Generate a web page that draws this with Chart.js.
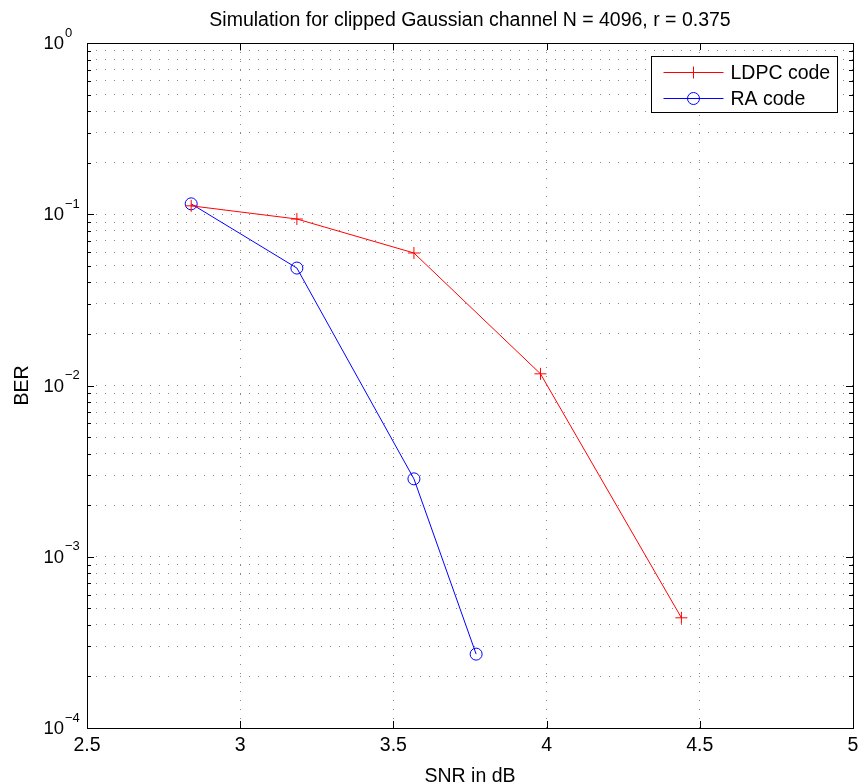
<!DOCTYPE html>
<html>
<head>
<meta charset="utf-8">
<script src="https://cdn.jsdelivr.net/npm/chart.js@4.4.1/dist/chart.umd.min.js"></script>
<style>
  body { margin: 0; background: #fff; }
  #wrap { width: 865px; height: 784px; }
</style>
</head>
<body>
<div id="wrap"><canvas id="berChart" width="865" height="784"></canvas></div>
<script>
// data
const titleText = "Simulation for clipped Gaussian channel N = 4096, r = 0.375";
const xTitle = "SNR in dB";
const yTitle = "BER";

const seriesNames = ["LDPC code", "RA code"];
const snrLdpc = [2.84, 3.185, 3.567, 3.98, 4.44];
const berLdpc = [0.112, 0.0938, 0.0594, 0.0117, 0.00044];
const snrRa = [2.84, 3.185, 3.567, 3.77];
const berRa = [0.115, 0.0485, 0.00285, 0.00027];

const xTicks = [2.5, 3, 3.5, 4, 4.5, 5];
const yDecades = [-4, -3, -2, -1, 0];

const FONT = "'Liberation Sans', Arial, Helvetica, sans-serif";
const FS = 19.5;

// log grid: 1..9 x each decade, plus the top
function buildLogTicks() {
  const t = [];
  for (let e = yDecades[0]; e < yDecades[yDecades.length - 1]; e++) {
    for (let m = 1; m <= 9; m++) t.push({ value: m * Math.pow(10, e) });
  }
  t.push({ value: Math.pow(10, yDecades[yDecades.length - 1]) });
  return t;
}

const toPoints = (xs, ys) => xs.map((x, i) => ({ x: x, y: ys[i] }));

// frame, tick marks, y labels, titles and legend
const decorPlugin = {
  id: "decor",
  afterDraw(chart) {
    const { ctx, chartArea: a, scales } = chart;
    const xs = scales.x, ys = scales.y;
    ctx.save();

    // tick marks on all four sides
    ctx.strokeStyle = "#000";
    ctx.lineWidth = 1;
    ctx.beginPath();
    xTicks.forEach((v) => {
      const px = Math.round(xs.getPixelForValue(v)) + 0.5;
      ctx.moveTo(px, a.bottom); ctx.lineTo(px, a.bottom - 7);
      ctx.moveTo(px, a.top); ctx.lineTo(px, a.top + 7);
    });
    buildLogTicks().forEach((t) => {
      const py = Math.round(ys.getPixelForValue(t.value)) + 0.5;
      const major = Math.abs(Math.log10(t.value) - Math.round(Math.log10(t.value))) < 1e-9;
      const len = major ? 7 : 4;
      ctx.moveTo(a.left, py); ctx.lineTo(a.left + len, py);
      ctx.moveTo(a.right, py); ctx.lineTo(a.right - len, py);
    });
    ctx.stroke();

    // frame
    ctx.strokeRect(Math.round(a.left) + 0.5, Math.round(a.top) + 0.5,
      Math.round(a.right - a.left), Math.round(a.bottom - a.top));

    // y tick labels 10^e
    ctx.fillStyle = "#000";
    ctx.textBaseline = "middle";
    yDecades.forEach((e) => {
      const py = ys.getPixelForValue(Math.pow(10, e));
      ctx.font = "18.5px " + FONT;
      ctx.textAlign = "right";
      ctx.fillText("10", a.left - 23, py + 1);
      ctx.font = "13px " + FONT;
      ctx.textAlign = "left";
      ctx.fillText(e < 0 ? "\u2212" + (-e) : String(e), a.left - 22, py - 10);
    });

    // titles
    ctx.font = FS + "px " + FONT;
    ctx.textAlign = "center";
    const cx = (a.left + a.right) / 2;
    ctx.fillText(titleText, cx, 21);
    ctx.fillText(xTitle, cx, 777);
    ctx.save();
    ctx.translate(23, (a.top + a.bottom) / 2);
    ctx.rotate(-Math.PI / 2);
    ctx.fillText(yTitle, 0, 0);
    ctx.restore();

    // legend box
    const bw = 186, bh = 56;
    const bx = Math.round(a.right - 16 - bw) + 0.5, by = Math.round(a.top + 13) + 0.5;
    ctx.fillStyle = "#fff";
    ctx.fillRect(bx, by, bw, bh);
    ctx.strokeStyle = "#000";
    ctx.strokeRect(bx, by, bw, bh);
    chart.data.datasets.forEach((ds, i) => {
      const ry = by + 16 + i * 26;
      ctx.strokeStyle = ds.borderColor;
      ctx.lineWidth = 1;
      ctx.beginPath();
      ctx.moveTo(bx + 12, ry); ctx.lineTo(bx + 72, ry);
      ctx.stroke();
      const mx = bx + 42;
      ctx.beginPath();
      if (ds.pointStyle === "cross") {
        ctx.moveTo(mx - 6, ry); ctx.lineTo(mx + 6, ry);
        ctx.moveTo(mx, ry - 6); ctx.lineTo(mx, ry + 6);
      } else {
        ctx.arc(mx, ry, 6, 0, Math.PI * 2);
      }
      ctx.stroke();
      ctx.fillStyle = "#000";
      ctx.textAlign = "left";
      ctx.font = FS + "px " + FONT;
      ctx.fillText(ds.label, bx + 79, ry + 1);
    });
    ctx.restore();
  }
};

const chart = new Chart(document.getElementById("berChart").getContext("2d"), {
  type: "line",
  data: {
    datasets: [
      {
        label: seriesNames[0],
        data: toPoints(snrLdpc, berLdpc),
        borderColor: "#ff0000",
        borderWidth: 1,
        pointStyle: "cross",
        pointRadius: 6,
        pointBorderWidth: 1,
        pointBorderColor: "#ff0000",
        pointBackgroundColor: "rgba(0,0,0,0)",
        tension: 0,
      },
      {
        label: seriesNames[1],
        data: toPoints(snrRa, berRa),
        borderColor: "#0000ff",
        borderWidth: 1,
        pointStyle: "circle",
        pointRadius: 6,
        pointBorderWidth: 1,
        pointBorderColor: "#0000ff",
        pointBackgroundColor: "rgba(0,0,0,0)",
        tension: 0,
      },
    ],
  },
  options: {
    responsive: false,
    animation: false,
    devicePixelRatio: 1,
    layout: { padding: { top: 43, right: 12, left: 0, bottom: 0 } },
    plugins: {
      legend: { display: false },
      title: { display: false },
      tooltip: { enabled: false },
    },
    scales: {
      x: {
        type: "linear",
        min: xTicks[0],
        max: xTicks[xTicks.length - 1],
        afterBuildTicks: (s) => { s.ticks = xTicks.map((v) => ({ value: v })); },
        afterFit: (s) => { s.height = 56; },
        grid: { color: "#8a8a8a", lineWidth: 1, drawTicks: false },
        border: { display: false, dash: [1, 8] },
        ticks: {
          autoSkip: false,
          maxRotation: 0,
          padding: 6,
          color: "#000",
          font: { family: FONT, size: FS },
          callback: (v) => String(v),
        },
      },
      y: {
        type: "logarithmic",
        min: Math.pow(10, yDecades[0]),
        max: Math.pow(10, yDecades[yDecades.length - 1]),
        afterBuildTicks: (s) => { s.ticks = buildLogTicks(); },
        afterFit: (s) => { s.width = 87; },
        grid: { color: "#8a8a8a", lineWidth: 1, drawTicks: false },
        border: { display: false, dash: [1, 8] },
        ticks: { display: false },
      },
    },
  },
  plugins: [decorPlugin],
});
</script>
</body>
</html>
